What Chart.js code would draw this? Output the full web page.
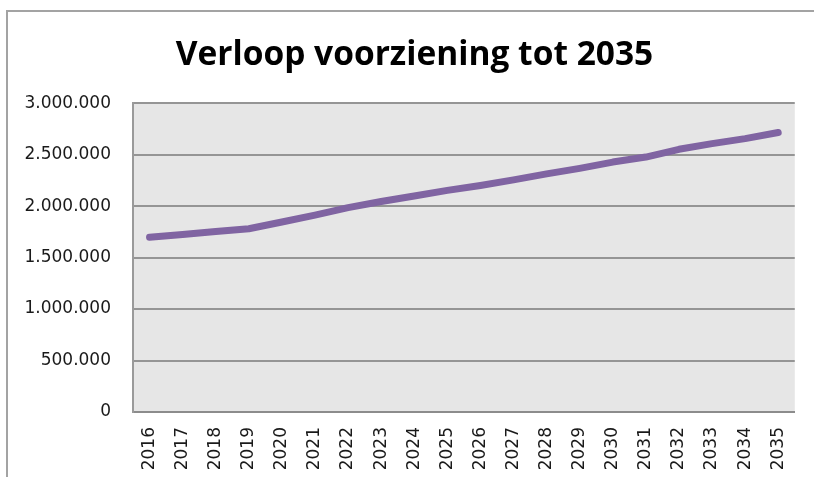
<!DOCTYPE html>
<html>
<head>
<meta charset="utf-8">
<script src="https://cdn.jsdelivr.net/npm/chart.js@4/dist/chart.umd.min.js"></script>
<style>
  html, body { margin: 0; padding: 0; background: #fff; }
  #wrap { position: relative; width: 814px; height: 477px; }
</style>
</head>
<body>
<div id="wrap"><canvas id="chart" width="814" height="477"></canvas></div>
<script>
// Verloop voorziening tot 2035 - line chart

const years = ['2016', '2017', '2018', '2019', '2020', '2021', '2022', '2023', '2024', '2025',
  '2026', '2027', '2028', '2029', '2030', '2031', '2032', '2033', '2034', '2035'];
const voorziening = [1698000, 1725000, 1754000, 1780000, 1846000, 1912000, 1985000, 2045000, 2099000, 2153000,
  2201000, 2255000, 2313000, 2367000, 2428000, 2477000, 2552000, 2607000, 2656000, 2715000];
const yMin = 0;
const yMax = 3000000;
const yStep = 500000;

// 3000000 -> "3.000.000"
function fmt(v) {
  return String(Math.round(v)).replace(/\B(?=(\d{3})+(?!\d))/g, '.');
}

// outer frame + grey plot background
const backdrop = {
  id: 'backdrop',
  afterLayout(chart) {
    // title sits a bit right of the canvas centre in the original
    if (chart.titleBlock) {
      chart.titleBlock.left += 15;
      chart.titleBlock.right += 15;
    }
  },
  beforeDraw(chart) {
    const ctx = chart.ctx;
    const a = chart.chartArea;
    ctx.save();
    ctx.strokeStyle = '#a3a3a3';
    ctx.lineWidth = 2;
    ctx.beginPath();
    ctx.moveTo(7, 477);
    ctx.lineTo(7, 11);
    ctx.lineTo(814, 11);
    ctx.stroke();
    ctx.fillStyle = '#e6e6e6';
    ctx.fillRect(a.left, a.top, a.right - a.left, a.bottom - a.top);
    ctx.restore();
  }
};

new Chart(document.getElementById('chart'), {
  type: 'line',
  data: {
    labels: years,
    datasets: [{
      label: 'Voorziening',
      data: voorziening,
      borderColor: '#8064a2',
      borderWidth: 7,
      borderCapStyle: 'round',
      borderJoinStyle: 'round',
      pointRadius: 0,
      tension: 0,
      fill: false
    }]
  },
  options: {
    responsive: false,
    animation: false,
    layout: { padding: { left: 0, right: 15, top: 0, bottom: 0 } },
    plugins: {
      legend: { display: false },
      tooltip: { enabled: false },
      title: {
        display: true,
        text: 'Verloop voorziening tot 2035',
        color: '#000',
        font: { family: 'Open Sans', size: 33.5, weight: 'bold' },
        padding: { top: 35, bottom: 28 }
      }
    },
    scales: {
      x: {
        offset: true,
        grid: { display: false, drawTicks: false },
        border: { display: true, color: '#8c8c8c', width: 2 },
        ticks: {
          color: '#1a1a1a',
          font: { family: 'DejaVu Sans', size: 17 },
          minRotation: 90,
          maxRotation: 90,
          padding: 15,
          autoSkip: false
        },
        afterFit(scale) { scale.height = 65; }
      },
      y: {
        min: yMin,
        max: yMax,
        grid: { color: '#959595', lineWidth: 2, drawTicks: false },
        border: { display: true, color: '#9a9a9a', width: 2 },
        ticks: {
          stepSize: yStep,
          color: '#1a1a1a',
          font: { family: 'DejaVu Sans', size: 17 },
          padding: 22,
          callback: v => fmt(v)
        },
        afterFit(scale) { scale.width = 133; }
      }
    }
  },
  plugins: [backdrop]
});
</script>
</body>
</html>
